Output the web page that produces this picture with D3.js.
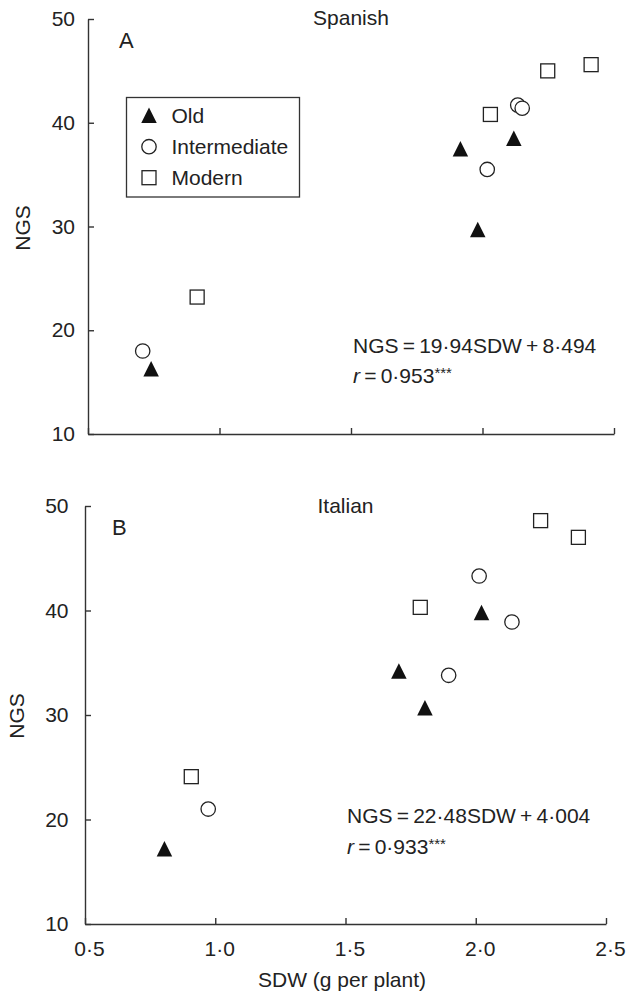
<!DOCTYPE html>
<html>
<head>
<meta charset="utf-8">
<script src="https://cdn.jsdelivr.net/npm/d3@7/dist/d3.min.js"></script>
<style>
  html, body { margin: 0; padding: 0; background: #fff; }
  svg text { font-family: Arial, "Liberation Sans", Helvetica, sans-serif; fill: #222; }
</style>
</head>
<body>
<svg id="chart" width="629" height="995"></svg>
<script>
// ---------- data ----------
const categories = ["Old", "Intermediate", "Modern"];
const xTicks = [0.5, 1.0, 1.5, 2.0, 2.5];
const yTicks = [10, 20, 30, 40, 50];

// Spanish panel (A): [SDW, NGS]
const spanishOld = [[0.74, 16.3], [1.916, 37.5], [1.982, 29.7], [2.119, 38.5]];
const spanishIntermediate = [[0.708, 18.0], [2.018, 35.5], [2.134, 41.7], [2.151, 41.4]];
const spanishModern = [[0.915, 23.2], [2.030, 40.8], [2.248, 45.0], [2.413, 45.6]];

// Italian panel (B)
const italianOld = [[0.805, 17.2], [1.705, 34.2], [1.805, 30.7], [2.022, 39.8]];
const italianIntermediate = [[0.973, 21.0], [1.896, 33.8], [2.013, 43.3], [2.139, 38.9]];
const italianModern = [[0.908, 24.1], [1.787, 40.3], [2.249, 48.6], [2.394, 47.0]];

const panelTitles = ["Spanish", "Italian"];
const panelLetters = ["A", "B"];
const equations = ["NGS\u2009=\u200919\u00B794SDW\u2009+\u20098\u00B7494", "NGS\u2009=\u200922\u00B748SDW\u2009+\u20094\u00B7004"];
const rValues = ["0\u00B7953", "0\u00B7933"];

// ---------- layout ----------
const svg = d3.select("#chart");
const FS = 21;
const axisColor = "#333";

const panels = [
  { x0: 88, x1: 614, yTop: 19, yBot: 434, series: [spanishOld, spanishIntermediate, spanishModern],
    labelPad: 13, showX: false, titleY: 25, letterX: 119, letterY: 48, eqX: 353, eqY: 353, rY: 383,
    ylabX: 30, ylabY: 228, legend: true },
  { x0: 85, x1: 606, yTop: 506, yBot: 924, series: [italianOld, italianIntermediate, italianModern],
    labelPad: 16.5, showX: true, titleY: 513, letterX: 112, letterY: 535, eqX: 347, eqY: 823, rY: 854,
    ylabX: 24, ylabY: 716, legend: false }
];

const triangle = {
  draw(ctx, size) {
    const h = Math.sqrt(size);
    ctx.moveTo(0, -h / 2);
    ctx.lineTo(h / 2, h / 2);
    ctx.lineTo(-h / 2, h / 2);
    ctx.closePath();
  }
};

function drawMarker(g, type, cx, cy) {
  if (type === 0) {
    g.append("path")
      .attr("d", d3.symbol().type(triangle).size(15.5 * 15.5)())
      .attr("transform", `translate(${cx},${cy})`)
      .attr("fill", "#111");
  } else if (type === 1) {
    g.append("circle").attr("cx", cx).attr("cy", cy).attr("r", 7.2)
      .attr("fill", "#fff").attr("stroke", "#222").attr("stroke-width", 1.3);
  } else {
    g.append("rect").attr("x", cx - 7).attr("y", cy - 7).attr("width", 14).attr("height", 14)
      .attr("fill", "#fff").attr("stroke", "#222").attr("stroke-width", 1.3);
  }
}

const fmt = d => d3.format(".1f")(d).replace(".", "\u00B7");

panels.forEach((p, i) => {
  const x = d3.scaleLinear().domain([0.5, 2.5]).range([p.x0, p.x1]);
  const y = d3.scaleLinear().domain([10, 50]).range([p.yBot, p.yTop]);
  const g = svg.append("g");

  // y axis
  const ya = g.append("g").attr("transform", `translate(${p.x0},0)`)
    .call(d3.axisLeft(y).tickValues(yTicks).tickSizeInner(-6).tickSizeOuter(0).tickPadding(p.labelPad));
  // x axis
  const xa = g.append("g").attr("transform", `translate(0,${p.yBot})`)
    .call(d3.axisBottom(x).tickValues(xTicks).tickSizeInner(-6).tickSizeOuter(0).tickPadding(17)
      .tickFormat(p.showX ? fmt : () => ""));
  [ya, xa].forEach(a => {
    a.selectAll("path.domain").attr("stroke", axisColor).attr("stroke-width", 1.4);
    a.selectAll(".tick line").attr("stroke", axisColor).attr("stroke-width", 1.4);
    a.selectAll(".tick text").attr("font-size", FS).attr("fill", "#222")
      .attr("font-family", "Arial, 'Liberation Sans', sans-serif");
  });
  xa.selectAll(".tick text").attr("dx", 4);

  // title and letter
  g.append("text").attr("x", (p.x0 + p.x1) / 2).attr("y", p.titleY).attr("text-anchor", "middle")
    .attr("font-size", FS).text(panelTitles[i]);
  g.append("text").attr("x", p.letterX).attr("y", p.letterY).attr("font-size", 22).text(panelLetters[i]);

  // y label
  g.append("text").attr("transform", `translate(${p.ylabX},${p.ylabY}) rotate(-90)`)
    .attr("text-anchor", "middle").attr("font-size", FS).text("NGS");

  // equation
  g.append("text").attr("x", p.eqX).attr("y", p.eqY).attr("font-size", FS).text(equations[i]);
  const rt = g.append("text").attr("x", p.eqX).attr("y", p.rY).attr("font-size", FS);
  rt.append("tspan").attr("font-style", "italic").text("r");
  rt.append("tspan").text("\u2009=\u2009" + rValues[i]);
  rt.append("tspan").attr("font-size", 15).attr("dy", -5).text("***");

  // points
  p.series.forEach((s, k) => {
    s.forEach(d => drawMarker(g, k, x(d[0]), y(d[1])));
  });

  // legend
  if (p.legend) {
    const lg = g.append("g");
    lg.append("rect").attr("x", 126.5).attr("y", 97.5).attr("width", 173).attr("height", 99.5)
      .attr("fill", "#fff").attr("stroke", axisColor).attr("stroke-width", 1.3);
    const rowY = [115.3, 146.7, 177.7];
    categories.forEach((c, k) => {
      drawMarker(lg, k, 149, rowY[k]);
      lg.append("text").attr("x", 171.5).attr("y", rowY[k] + 7.5).attr("font-size", FS).text(c);
    });
  }
});

// x axis label
svg.append("text").attr("x", 342).attr("y", 987).attr("text-anchor", "middle")
  .attr("font-size", FS).text("SDW (g per plant)");
</script>
</body>
</html>
